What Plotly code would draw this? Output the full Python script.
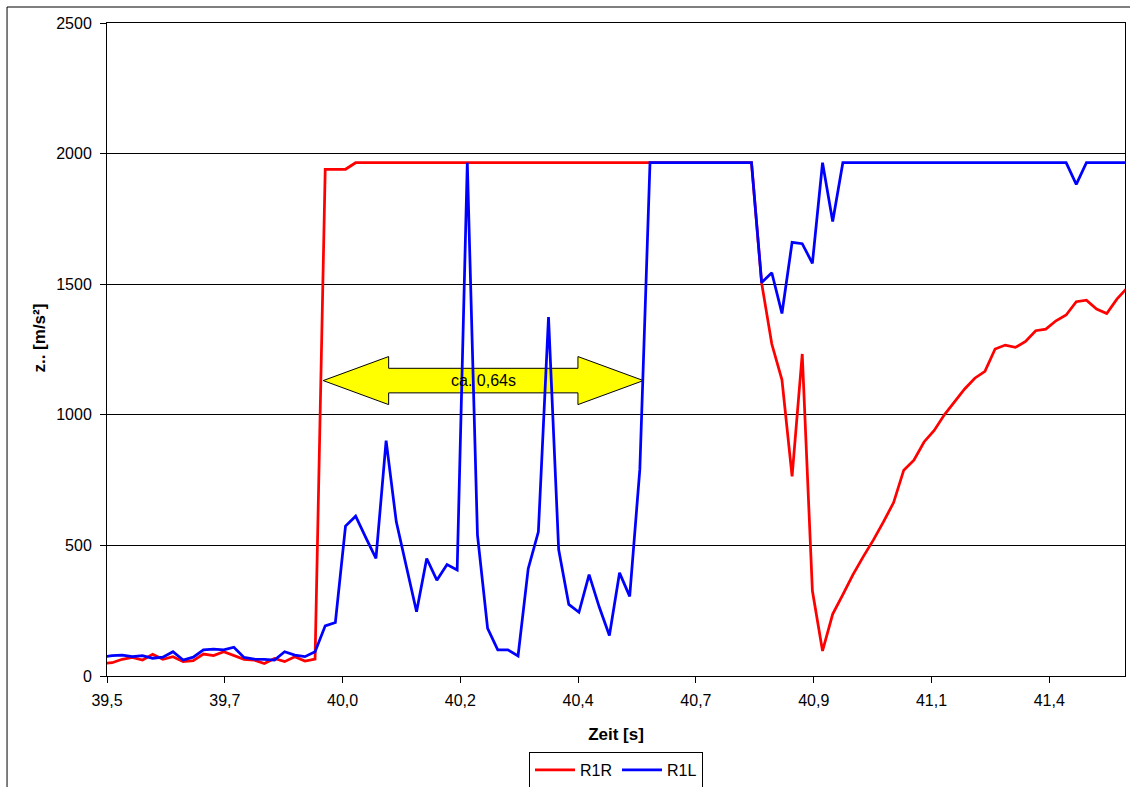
import plotly.graph_objects as go

zeit = [
    39.49, 39.51, 39.53, 39.55, 39.57, 39.59, 39.61, 39.63, 39.65, 39.67,
    39.69, 39.71, 39.73, 39.75, 39.77, 39.79, 39.81, 39.83, 39.85, 39.87,
    39.89, 39.91, 39.93, 39.95, 39.97, 39.99, 40.01, 40.03, 40.05, 40.07,
    40.09, 40.11, 40.13, 40.15, 40.17, 40.19, 40.21, 40.23, 40.25, 40.27,
    40.29, 40.31, 40.33, 40.35, 40.37, 40.39, 40.41, 40.43, 40.45, 40.47,
    40.49, 40.51, 40.53, 40.55, 40.57, 40.59, 40.61, 40.63, 40.65, 40.67,
    40.69, 40.71, 40.73, 40.75, 40.77, 40.79, 40.81, 40.83, 40.85, 40.87,
    40.89, 40.91, 40.93, 40.95, 40.97, 40.99, 41.01, 41.03, 41.05, 41.07,
    41.09, 41.11, 41.13, 41.15, 41.17, 41.19, 41.21, 41.23, 41.25, 41.27,
    41.29, 41.31, 41.33, 41.35, 41.37, 41.39, 41.41, 41.43, 41.45, 41.47,
    41.49, 41.51,
]

r1r = [
    48, 51, 64, 71, 61, 83, 64, 74, 55, 59,
    84, 78, 93, 78, 64, 61, 48, 67, 55, 74,
    57, 65, 1940, 1940, 1940, 1965, 1965, 1965, 1965, 1965,
    1965, 1965, 1965, 1965, 1965, 1965, 1965, 1965, 1965, 1965,
    1965, 1965, 1965, 1965, 1965, 1965, 1965, 1965, 1965, 1965,
    1965, 1965, 1965, 1965, 1965, 1965, 1965, 1965, 1965, 1965,
    1965, 1965, 1965, 1965, 1965, 1504, 1271, 1134, 764, 1233,
    326, 96, 237, 312, 388, 456, 520, 590, 664, 788,
    826, 896, 940, 1000, 1049, 1099, 1140, 1166, 1252, 1267,
    1258, 1281, 1322, 1328, 1360, 1382, 1433, 1439, 1405, 1388,
    1443, 1485,
]

r1l = [
    72, 78, 80, 74, 78, 68, 72, 93, 61, 72,
    100, 103, 100, 110, 71, 65, 64, 61, 93, 80,
    74, 93, 192, 205, 574, 612, 530, 450, 901, 591,
    418, 246, 450, 367, 427, 406, 1965, 540, 182, 100,
    100, 77, 411, 552, 1374, 484, 274, 244, 388, 264,
    155, 395, 305, 792, 1965, 1965, 1965, 1965, 1965, 1965,
    1965, 1965, 1965, 1965, 1965, 1506, 1544, 1388, 1660, 1655,
    1580, 1965, 1740, 1965, 1965, 1965, 1965, 1965, 1965, 1965,
    1965, 1965, 1965, 1965, 1965, 1965, 1965, 1965, 1965, 1965,
    1965, 1965, 1965, 1965, 1965, 1965, 1882, 1965, 1965, 1965,
    1965, 1965,
]

x_tick_labels = ["39,5", "39,7", "40,0", "40,2", "40,4", "40,7", "40,9", "41,1", "41,4"]
x_tick_step = 0.2321
x_min, x_max = 39.5, 41.506

# annotation arrow (start/end times and level)
arrow_t0, arrow_t1 = 39.926, 40.557
arrow_level = 1131
arrow_label = "ca. 0,64s"

FONT = "Liberation Sans, Arial, sans-serif"
FS = 16

fig = go.Figure()
fig.add_trace(go.Scatter(x=zeit, y=r1r, mode="lines", name="R1R",
                         line=dict(color="#FF0000", width=2.75)))
fig.add_trace(go.Scatter(x=zeit, y=r1l, mode="lines", name="R1L",
                         line=dict(color="#0000FF", width=2.75)))

head = 0.129
hh, sh = 92, 47
path = (f"M {arrow_t0},{arrow_level} L {arrow_t0+head},{arrow_level+hh} "
        f"L {arrow_t0+head},{arrow_level+sh} L {arrow_t1-head},{arrow_level+sh} "
        f"L {arrow_t1-head},{arrow_level+hh} L {arrow_t1},{arrow_level} "
        f"L {arrow_t1-head},{arrow_level-hh} L {arrow_t1-head},{arrow_level-sh} "
        f"L {arrow_t0+head},{arrow_level-sh} L {arrow_t0+head},{arrow_level-hh} Z")
fig.add_shape(type="path", path=path, xref="x", yref="y",
              fillcolor="#FFFF00", line=dict(color="#000000", width=1), layer="below")
fig.add_annotation(x=(arrow_t0 + arrow_t1) / 2, y=arrow_level, xref="x", yref="y",
                   text=arrow_label, showarrow=False,
                   font=dict(family=FONT, size=FS, color="#000000"))

# y-axis title placed like the original (slightly above plot centre)
fig.add_annotation(x=-0.066, y=0.518, xref="paper", yref="paper",
                   text="<b>z.. [m/s²]</b>", textangle=-90, showarrow=False,
                   xanchor="center", yanchor="middle",
                   font=dict(family=FONT, size=17, color="#000000"))

# outer chart frame
fig.add_shape(type="rect", xref="paper", yref="paper",
              x0=-0.0982, x1=1.02, y0=-0.4, y1=1.0245,
              line=dict(color="#000000", width=1), fillcolor="rgba(0,0,0,0)", layer="above")

fig.update_layout(
    width=1130, height=787,
    margin=dict(l=107, r=5, t=23, b=111, autoexpand=False),
    paper_bgcolor="white", plot_bgcolor="white",
    font=dict(family=FONT, size=FS, color="#000000"),
    showlegend=True,
    legend=dict(orientation="h", x=0.5, xanchor="center", y=-0.1164, yanchor="top",
                bordercolor="#000000", borderwidth=1, bgcolor="white",
                font=dict(family=FONT, size=FS), itemwidth=40,
                tracegroupgap=0),
    xaxis=dict(range=[x_min, x_max], automargin=False,
               tickmode="array",
               tickvals=[x_min + k * x_tick_step for k in range(len(x_tick_labels))],
               ticktext=x_tick_labels,
               ticks="outside", ticklen=6, tickcolor="#000000",
               ticklabelstandoff=4,
               showline=True, linecolor="#000000", linewidth=1, mirror=True,
               showgrid=False, zeroline=False,
               title=dict(text="<b>Zeit [s]</b>", font=dict(family=FONT, size=17), standoff=19),
               tickfont=dict(family=FONT, size=FS)),
    yaxis=dict(range=[0, 2500], dtick=500, tick0=0, automargin=False,
               ticks="outside", ticklen=6, tickcolor="#000000",
               ticklabelstandoff=5,
               showline=True, linecolor="#000000", linewidth=1, mirror=True,
               showgrid=True, gridcolor="#000000", gridwidth=1, zeroline=False,
               tickfont=dict(family=FONT, size=FS)),
)

fig.write_html("out.html", config={"displayModeBar": False},
               post_script="document.body.style.margin='0px';document.body.style.overflow='hidden';")
